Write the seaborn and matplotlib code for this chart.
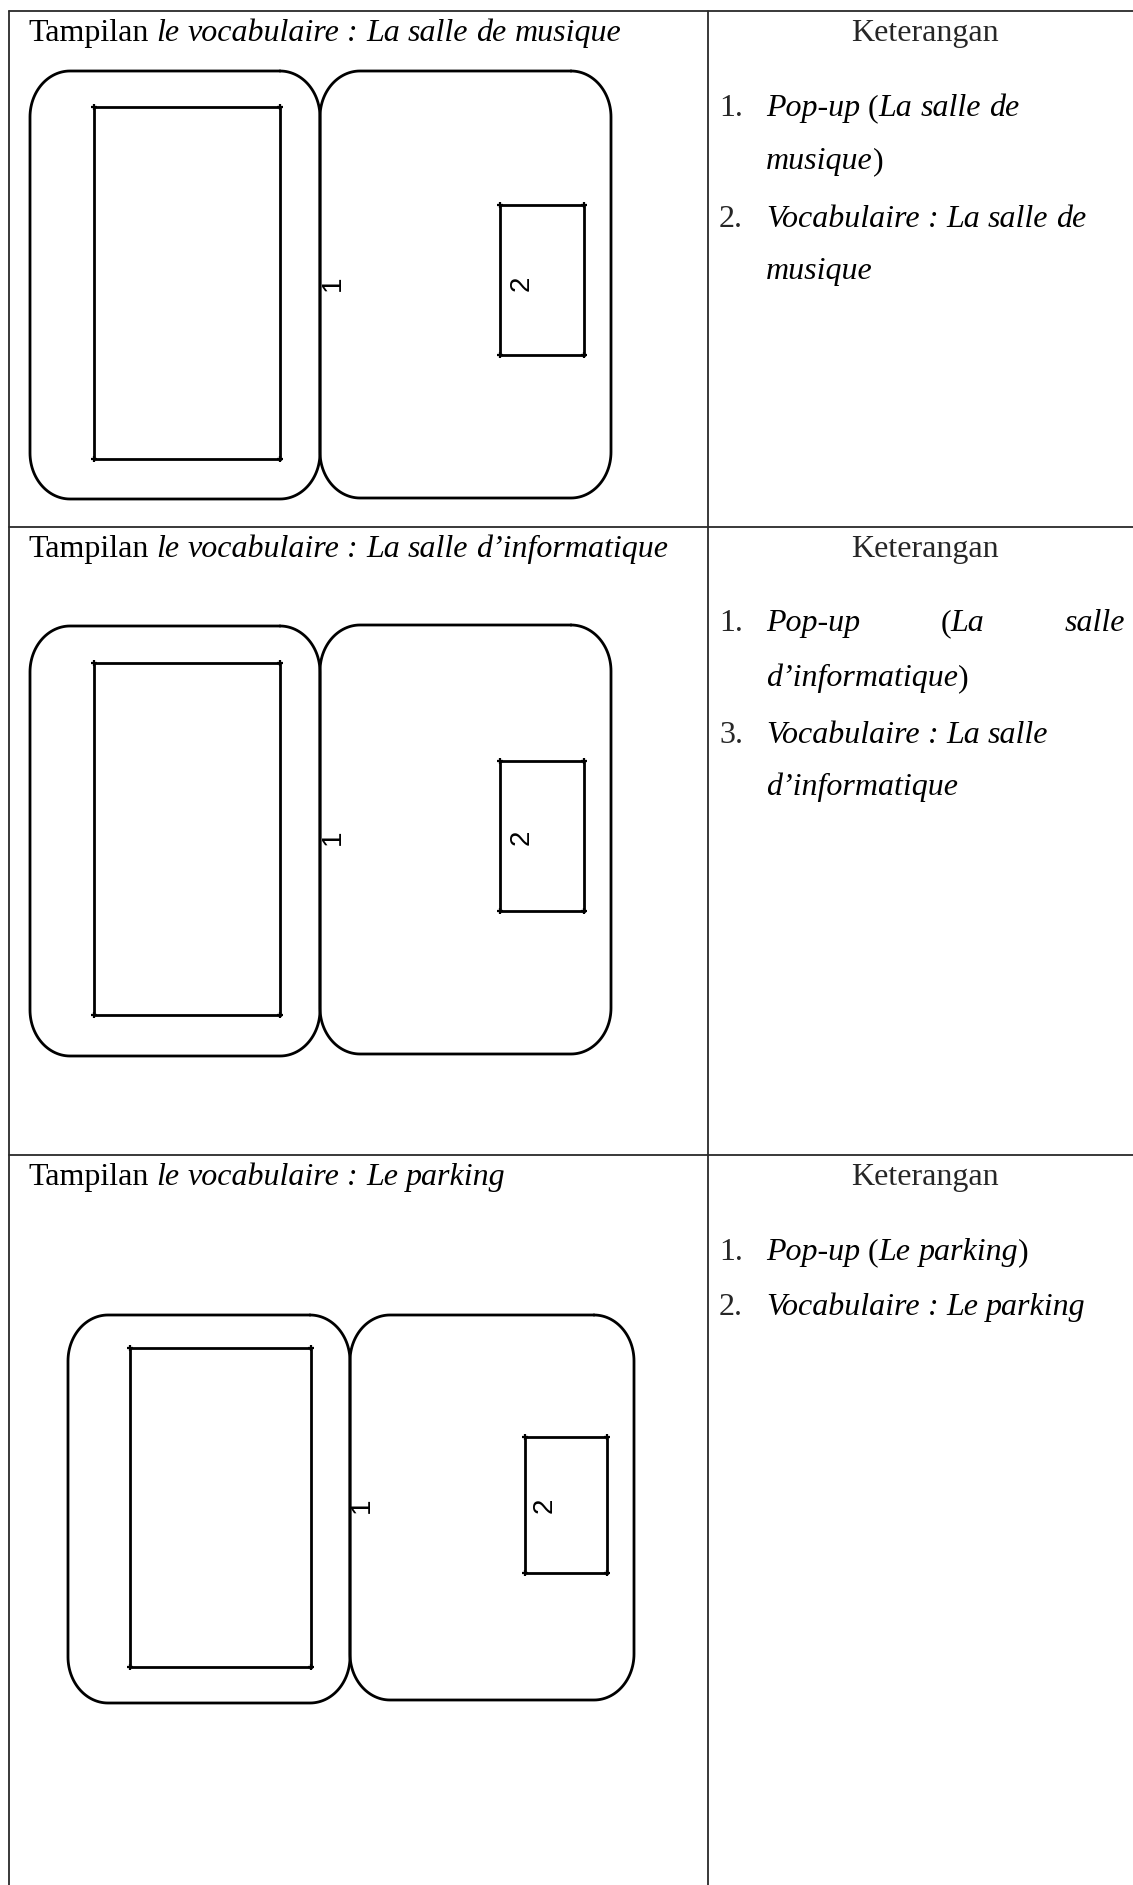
import numpy as np
import matplotlib.pyplot as plt
import seaborn as sns

# ---- table content ----
header_left = "Tampilan _le vocabulaire : {}_"
header_right = "Keterangan"
topics = ["La salle de musique", "La salle d\u2019informatique", "Le parking"]

# italic runs are wrapped in underscores
notes = [
    ["_Pop-up_ (_La salle de_", "_musique_)", "_Vocabulaire : La salle de_", "_musique_"],
    ["_Pop-up_ (_La salle_", "_d\u2019informatique_)", "_Vocabulaire : La salle_", "_d\u2019informatique_"],
    ["_Pop-up_ (_Le parking_)", "_Vocabulaire :  Le parking_"],
]
numbers = [
    ["1.", "", "2.", ""],
    ["1.", "", "3.", ""],
    ["1.", "2."],
]
justified = [
    [False, False, False, False],
    [True, False, False, False],
    [False, False],
]
screen_labels = ["1", "2"]

# ---- layout (pixels, y downward) ----
W, H = 1133, 1885
table_left, col_split = 9, 708
row_tops = [11, 527, 1155]
line_offsets = [[105, 158, 216, 268], [104, 159, 216, 268], [105, 160]]
title_x, title_dy = 28, 30
num_x, text_x, just_right = 719, 766, 1125
kt_x = 925
FS = 23
# popup left box, popup right box, inner rect, small rect, label 1 pos, label 2 pos
shapes = [
    dict(left=(30, 71, 320, 499), right=(320, 71, 611, 498), inner=(94, 107, 280, 459),
         small=(500, 205, 584, 355), lab1=(333, 283), lab2=(522, 283)),
    dict(left=(30, 626, 320, 1056), right=(320, 625, 611, 1054), inner=(94, 663, 280, 1015),
         small=(500, 761, 584, 911), lab1=(333, 837), lab2=(522, 837)),
    dict(left=(68, 1315, 350, 1703), right=(350, 1315, 634, 1700), inner=(130, 1348, 311, 1667),
         small=(525, 1437, 607, 1573), lab1=(362, 1505), lab2=(545, 1505)),
]

SERIF = "Liberation Serif"

sns.set_theme(style="white")
plt.rcParams["font.family"] = [SERIF, "DejaVu Serif"]

fig = plt.figure(figsize=(W / 100, H / 100), dpi=100)
ax = fig.add_axes([0, 0, 1, 1])
ax.set_xlim(0, W)
ax.set_ylim(H, 0)
ax.axis("off")
renderer = fig.canvas.get_renderer()


def measure(txt, italic, size):
    t = ax.text(0, 0, txt, fontsize=size, family=SERIF,
                style="italic" if italic else "normal")
    w = t.get_window_extent(renderer).width
    t.remove()
    return w


def parse(line):
    words = [[]]
    for k, part in enumerate(line.split("_")):
        italic = k % 2 == 1
        for j, p in enumerate(part.split(" ")):
            if j > 0:
                words.append([])
            if p:
                words[-1].append((p, italic))
    return [w for w in words if w]


def draw_line(x, y, line, size, right=None):
    words = parse(line)
    widths = [[measure(p, it, size) for p, it in w] for w in words]
    gap = 0.25 * size * 100 / 72
    if right is not None and len(words) > 1:
        gap = (right - x - sum(sum(w) for w in widths)) / (len(words) - 1)
    for w, ws in zip(words, widths):
        for (p, it), pw in zip(w, ws):
            ax.text(x, y, p, fontsize=size, family=SERIF, va="baseline", ha="left",
                    style="italic" if it else "normal", color="black")
            x += pw
        x += gap


def rounded_box(box, rx, ry):
    x0, y0, x1, y1 = box
    segs = [(x1 - rx, y0 + ry, np.pi / 2, 0), (x1 - rx, y1 - ry, 0, -np.pi / 2),
            (x0 + rx, y1 - ry, -np.pi / 2, -np.pi), (x0 + rx, y0 + ry, np.pi, np.pi / 2)]
    xs, ys = [], []
    for cx, cy, a0, a1 in segs:
        a = np.linspace(a0, a1, 30)
        xs.extend(cx + rx * np.cos(a))
        ys.extend(cy - ry * np.sin(a))
    xs.append(xs[0])
    ys.append(ys[0])
    sns.lineplot(x=xs, y=ys, sort=False, estimator=None, color="black", lw=2.0, ax=ax)


def plain_box(box):
    x0, y0, x1, y1 = box
    ax.plot([x0, x1, x1, x0, x0], [y0, y0, y1, y1, y0], color="black", lw=2.0,
            solid_joinstyle="miter")
    ax.plot([x0, x1, x1, x0], [y0, y0, y1, y1], ls="none", marker="+", ms=5,
            mew=1.6, color="black")


# table grid
grid = dict(color="#2a2a2a", lw=1.3)
for top in row_tops:
    ax.plot([table_left, W], [top, top], **grid)
ax.plot([table_left, table_left], [row_tops[0], H], **grid)
ax.plot([col_split, col_split], [row_tops[0], H], **grid)

for r, topic in enumerate(topics):
    top = row_tops[r]
    draw_line(title_x, top + title_dy, header_left.format(topic), FS)
    ax.text(kt_x, top + title_dy, header_right, fontsize=FS, family=SERIF,
            ha="center", va="baseline")
    for k, line in enumerate(notes[r]):
        y = top + line_offsets[r][k]
        if numbers[r][k]:
            ax.text(num_x, y, numbers[r][k], fontsize=FS, family=SERIF, va="baseline")
        draw_line(text_x, y, line, FS, right=just_right if justified[r][k] else None)

    s = shapes[r]
    rounded_box(s["left"], 40, 46)
    rounded_box(s["right"], 40, 46)
    plain_box(s["inner"])
    plain_box(s["small"])
    for key, lab in zip(["lab1", "lab2"], screen_labels):
        ax.text(*s[key], lab, fontsize=20, family="Liberation Sans", rotation=90,
                ha="center", va="center", color="black")

fig.savefig("out.png", dpi=100)
